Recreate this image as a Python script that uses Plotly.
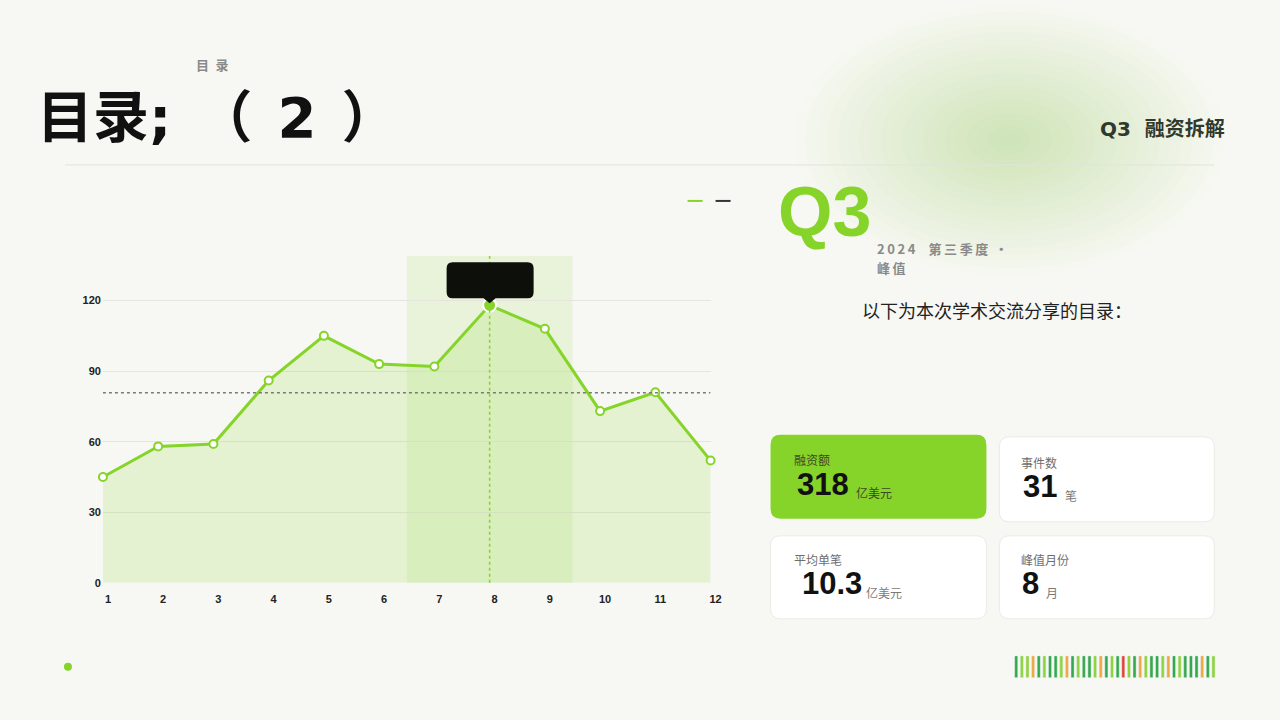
import plotly.graph_objects as go

# monthly financing (亿美元)
months = list(range(1, 13))
funding = [45, 58, 59, 86, 105, 93, 92, 118, 108, 73, 81, 52]
y_ticks = [0, 30, 60, 90, 120]
q3_months = [7, 8, 9]
q3_events = 31

# decorative colour strip bottom right (g = dark green, l = light green, o = orange, r = red)
strip = ["g", "l", "l", "o", "g", "l", "g", "g", "l", "o", "g", "l",
         "g", "g", "l", "o", "g", "l", "g", "r", "l", "g", "o", "l",
         "g", "g", "l", "o", "g", "l", "g", "g", "g", "o", "g", "l"]
strip_cols = {"g": "#34a84a", "l": "#8fd43a", "o": "#efa844", "r": "#e0443a"}

GREEN = "#86d42a"
BG = "#f7f8f3"
W, H = 1280, 720
S = 0.992  # the page ends up drawn slightly smaller than 1280x720

q3_total = sum(funding[m - 1] for m in q3_months)
avg_deal = round(q3_total / q3_events, 1)
peak_idx = funding.index(max(funding))
peak_month = months[peak_idx]
mean_val = sum(funding) / len(funding)


def px(x):
    return x / (W * S)


def py(y):
    return 1 - y / (H * S)


def rrect(x0, y0, x1, y1, r):
    pts = [("M", x0 + r, y0), ("L", x1 - r, y0), ("Q", x1, y0, x1, y0 + r),
           ("L", x1, y1 - r), ("Q", x1, y1, x1 - r, y1), ("L", x0 + r, y1),
           ("Q", x0, y1, x0, y1 - r), ("L", x0, y0 + r), ("Q", x0, y0, x0 + r, y0)]
    s = ""
    for p in pts:
        if p[0] == "Q":
            s += "Q%.5f,%.5f %.5f,%.5f " % (px(p[1]), py(p[2]), px(p[3]), py(p[4]))
        else:
            s += "%s%.5f,%.5f " % (p[0], px(p[1]), py(p[2]))
    return s + "Z"


fig = go.Figure()

# area + line
fig.add_trace(go.Scatter(
    x=months, y=funding, mode="lines+markers",
    line=dict(color=GREEN, width=3),
    fill="tozeroy", fillcolor="rgba(134,212,42,0.17)",
    marker=dict(size=8, color="white", line=dict(color=GREEN, width=2)),
    cliponaxis=False, hoverinfo="skip"))

# peak marker
fig.add_trace(go.Scatter(
    x=[peak_month], y=[funding[peak_idx]], mode="markers",
    marker=dict(size=13, color=GREEN, line=dict(color="white", width=2)),
    cliponaxis=False, hoverinfo="skip"))

# colour strip as bars on its own axes
fig.add_trace(go.Bar(
    x=list(range(len(strip))), y=[1] * len(strip),
    marker=dict(color=[strip_cols[c] for c in strip], cornerradius=1),
    xaxis="x2", yaxis="y2", hoverinfo="skip"))

shapes = []

# soft green glow top right
for i in range(20):
    k = 1 - i / 20
    shapes.append(dict(type="circle", xref="paper", yref="paper",
                       x0=px(1010 - 215 * k), x1=px(1010 + 215 * k),
                       y0=py(140 + 135 * k), y1=py(140 - 135 * k),
                       fillcolor="rgba(150,215,80,0.016)", line_width=0, layer="below"))

# header rule
shapes.append(dict(type="line", xref="paper", yref="paper", x0=px(65), x1=px(1215),
                   y0=py(165), y1=py(165), line=dict(color="#e2e3dd", width=1)))
# small dashes
shapes.append(dict(type="line", xref="paper", yref="paper", x0=px(688), x1=px(703),
                   y0=py(201), y1=py(201), line=dict(color=GREEN, width=2)))
shapes.append(dict(type="line", xref="paper", yref="paper", x0=px(716), x1=px(731),
                   y0=py(201), y1=py(201), line=dict(color="#333333", width=2)))

# Q3 highlight band
shapes.append(dict(type="rect", xref="x", yref="y domain", x0=q3_months[0] - 0.5,
                   x1=q3_months[-1] + 0.5, y0=0, y1=1,
                   fillcolor="rgba(134,212,42,0.12)", line_width=0, layer="below"))
# mean line
shapes.append(dict(type="line", xref="x", yref="y", x0=months[0], x1=months[-1],
                   y0=mean_val, y1=mean_val, line=dict(color="#7a7a7a", width=1.5, dash="dot")))
# peak vertical
shapes.append(dict(type="line", xref="x", yref="y domain", x0=peak_month, x1=peak_month,
                   y0=0, y1=1, line=dict(color=GREEN, width=1.5, dash="dot")))

# tooltip bubble anchored on peak (pixel offsets)
r = 6
tip = ("M-37,7 L-6,7 L0,2 L6,7 L38,7 Q44,7 44,%d L44,%d Q44,43 38,43 "
       "L-37,43 Q-43,43 -43,%d L-43,%d Q-43,7 -37,7 Z") % (7 + r, 43 - r, 43 - r, 7 + r)
shapes.append(dict(type="path", xref="x", yref="y", xsizemode="pixel", ysizemode="pixel",
                   xanchor=peak_month, yanchor=funding[peak_idx], path=tip,
                   fillcolor="#0c0f0a", line_width=0, layer="above"))

# KPI cards
cards = [(771, 435, 987, 519, GREEN, "rgba(0,0,0,0)"),
         (1000, 437, 1215, 522, "white", "#ebebe6"),
         (771, 536, 987, 619, "white", "#ebebe6"),
         (1000, 536, 1215, 619, "white", "#ebebe6")]
for x0, y0, x1, y1, fc, lc in cards:
    shapes.append(dict(type="path", xref="paper", yref="paper", path=rrect(x0, y0, x1, y1, 10),
                       fillcolor=fc, line=dict(color=lc, width=1), layer="below"))

# dot bottom left
shapes.append(dict(type="circle", xref="paper", yref="paper", x0=px(64), x1=px(72),
                   y0=py(671), y1=py(663), fillcolor=GREEN, line_width=0))

ann = []


def text(x, y, s, size, color, bold=False, family="Noto Sans CJK SC", xanchor="left"):
    ann.append(dict(x=px(x), y=py(y), xref="paper", yref="paper", text=s, showarrow=False,
                    xanchor=xanchor, yanchor="middle",
                    font=dict(size=size, color=color, family=family,
                              weight="bold" if bold else "normal")))


text(194, 65, "目\u2002录", 13, "#8a8a8a", bold=True)
text(35, 118, "目录; \u200a（ \u200a2 \u200a）", 56, "#111111", bold=True,
     family="DejaVu Sans, Noto Sans CJK SC")
text(1228, 129, "Q3  融资拆解", 20, "#30392b", bold=True, xanchor="right",
     family="DejaVu Sans, Noto Sans CJK SC")
text(776, 212, "Q3", 70, GREEN, bold=True, family="Liberation Sans")
text(876, 249, "2\u20090\u20092\u20094\u2003第\u2009三\u2009季\u2009度\u2002·", 13, "#8a8a8a", bold=True)
text(876, 268, "峰\u2009值", 13, "#8a8a8a", bold=True)
text(861, 310, "以下为本次学术交流分享的目录：", 18, "#222222")

text(792, 460, "融资额", 12, "#3b4a22")
text(795, 485, "%d" % q3_total, 31, "#111111", bold=True, family="Liberation Sans")
text(855, 493, "亿美元", 12, "#3b4a22")

text(1020, 463, "事件数", 12, "#6e6e6e")
text(1022, 487, "%d" % q3_events, 31, "#111111", bold=True, family="Liberation Sans")
text(1064, 496, "笔", 12, "#7a7a7a")

text(792, 560, "平均单笔", 12, "#6e6e6e")
text(800, 584, "%.1f" % avg_deal, 31, "#111111", bold=True, family="Liberation Sans")
text(865, 593, "亿美元", 12, "#7a7a7a")

text(1020, 560, "峰值月份", 12, "#6e6e6e")
text(1021, 584, "%d" % peak_month, 31, "#111111", bold=True, family="Liberation Sans")
text(1045, 593, "月", 12, "#7a7a7a")

fig.update_layout(
    autosize=True, margin=dict(l=0, r=0, t=0, b=0),
    paper_bgcolor=BG, plot_bgcolor="rgba(0,0,0,0)",
    showlegend=False, hovermode=False,
    shapes=shapes, annotations=ann, bargap=0.45,
    xaxis=dict(domain=[px(103), px(711)], range=[1, 12], tickvals=months,
               ticktext=[str(m) for m in months], showgrid=False, zeroline=False,
               showline=False, ticks="", ticklabelshift=5, ticklabelstandoff=8,
               tickfont=dict(size=11, color="#222222", family="Liberation Sans", weight="bold")),
    yaxis=dict(domain=[py(583), py(256)], range=[0, 139], tickvals=y_ticks,
               showgrid=True, gridcolor="#e4e5df", gridwidth=1, zeroline=False,
               showline=False, ticks="", ticklabelstandoff=1,
               tickfont=dict(size=11, color="#222222", family="Liberation Sans", weight="bold")),
    xaxis2=dict(domain=[px(1014), px(1217)], range=[-0.5, len(strip) - 0.5], visible=False),
    yaxis2=dict(domain=[py(678), py(656)], range=[0, 1], visible=False),
)

fig.write_html("out.html", config={"responsive": True, "displayModeBar": False},
               default_width="100vw", default_height="100vh",
               post_script="document.body.style.margin='0';document.body.style.overflow='hidden';"
                           "window.dispatchEvent(new Event('resize'));")
